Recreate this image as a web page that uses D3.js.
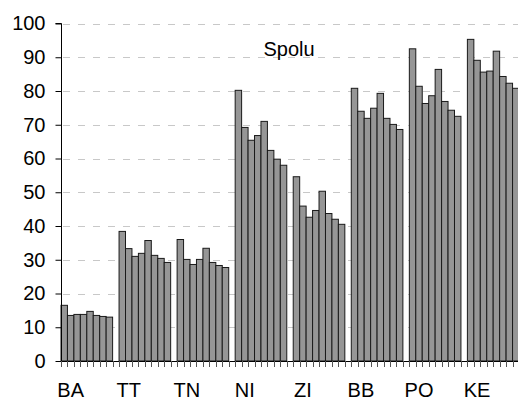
<!DOCTYPE html>
<html>
<head>
<meta charset="utf-8">
<script src="https://cdn.jsdelivr.net/npm/d3@7"></script>
<style>
  body { margin: 0; background: #fff; }
  text { font-family: "Liberation Sans", Arial, sans-serif; }
</style>
</head>
<body>
<div id="chart"></div>
<script>
// Regions (category groups) and values, 8 bars per region
const regions = ["BA", "TT", "TN", "NI", "ZI", "BB", "PO", "KE"];
const ba = [16.5, 13.5, 13.8, 13.8, 14.7, 13.5, 13.2, 13.0];
const tt = [38.4, 33.3, 31.0, 31.9, 35.7, 31.3, 30.4, 29.2];
const tn = [36.0, 30.1, 28.6, 30.1, 33.4, 29.2, 28.3, 27.7];
const ni = [80.2, 69.2, 65.4, 66.8, 71.0, 62.4, 59.8, 58.0];
const zi = [54.6, 45.9, 42.6, 44.6, 50.3, 43.7, 42.0, 40.5];
const bb = [80.8, 74.0, 71.9, 74.9, 79.3, 71.9, 70.1, 68.6];
const po = [92.5, 81.4, 76.3, 78.6, 86.4, 76.9, 74.3, 72.5];
const ke = [95.3, 89.1, 85.6, 85.9, 91.8, 84.3, 82.3, 80.8];
const yTicks = [0, 10, 20, 30, 40, 50, 60, 70, 80, 90, 100];
const title = "Spolu";

const series = [ba, tt, tn, ni, zi, bb, po, ke];

const width = 518;
const height = 400;
const perGroup = 9; // 8 bars + 1 empty slot
const slots = regions.length * perGroup - 1;

const svg = d3.select("#chart")
    .append("svg")
    .attr("width", width)
    .attr("height", height);

// flatten to one row per bar, with its slot index
const bars = [];
series.forEach(function(vals, g) {
  vals.forEach(function(v, i) {
    bars.push({ slot: g * perGroup + i, value: v });
  });
});

const x = d3.scaleBand()
    .domain(d3.range(slots))
    .range([61, 519])
    .padding(0);

const y = d3.scaleLinear()
    .domain([0, 100])
    .range([361, 23.5]);

// dashed grid lines
svg.append("g")
  .selectAll("line")
  .data(yTicks.filter(d => d > 0))
  .enter().append("line")
    .attr("x1", 61)
    .attr("x2", width)
    .attr("y1", d => Math.round(y(d)) + 0.5)
    .attr("y2", d => Math.round(y(d)) + 0.5)
    .attr("stroke", "#c8c8c8")
    .attr("stroke-width", 1)
    .attr("stroke-dasharray", "7,8")
    .attr("stroke-dashoffset", -2);

// bars
svg.append("g")
  .selectAll("rect")
  .data(bars)
  .enter().append("rect")
    .attr("x", d => x(d.slot))
    .attr("y", d => y(d.value))
    .attr("width", x.bandwidth())
    .attr("height", d => y(0) - y(d.value))
    .attr("fill", "#969696")
    .attr("stroke", "#1a1a1a")
    .attr("stroke-width", 1);

// y axis
const yAxis = svg.append("g")
    .attr("transform", "translate(61.5,0)")
    .call(d3.axisLeft(y).tickValues(yTicks).tickSize(6).tickPadding(10));
yAxis.select(".domain").attr("stroke", "#000").attr("d", "M-6," + (y(100)) + "H0V" + y(0));
yAxis.selectAll("text").attr("font-size", 20).attr("fill", "#000")
    .style("font-family", "'Liberation Sans', Arial, sans-serif");
yAxis.selectAll("line").attr("stroke", "#000");

// x axis line and small ticks at every slot boundary
const xAxis = svg.append("g");
xAxis.append("line")
    .attr("x1", 61)
    .attr("x2", width)
    .attr("y1", Math.round(y(0)) + 0.5)
    .attr("y2", Math.round(y(0)) + 0.5)
    .attr("stroke", "#000");
xAxis.selectAll(".tick")
  .data(d3.range(slots + 1))
  .enter().append("line")
    .attr("class", "tick")
    .attr("x1", d => Math.round(61 + d * x.step()) + 0.5)
    .attr("x2", d => Math.round(61 + d * x.step()) + 0.5)
    .attr("y1", Math.round(y(0)))
    .attr("y2", Math.round(y(0)) + 6)
    .attr("stroke", "#555");

// region labels, centred under the 2nd bar of each group
xAxis.selectAll("text")
  .data(regions)
  .enter().append("text")
    .attr("x", (d, i) => x(i * perGroup + 1) + x.bandwidth() / 2)
    .attr("y", 397)
    .attr("text-anchor", "middle")
    .attr("font-size", 20)
    .text(d => d);

// title inside the plot
svg.append("text")
    .attr("x", 289)
    .attr("y", 56)
    .attr("text-anchor", "middle")
    .attr("font-size", 20)
    .text(title);
</script>
</body>
</html>
